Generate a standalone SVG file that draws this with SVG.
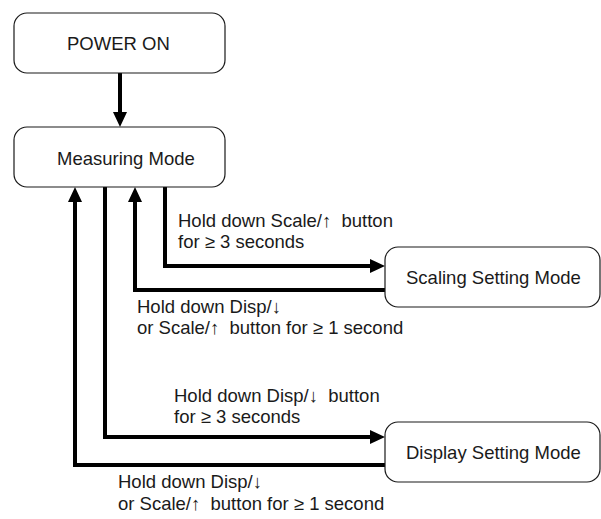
<svg xmlns="http://www.w3.org/2000/svg" width="601" height="519" viewBox="0 0 601 519">
  <style>
    .box { fill: #ffffff; stroke: #1a1a1a; stroke-width: 1.2; }
    .label { font-family: "Liberation Sans", Arial, "DejaVu Sans", sans-serif; font-size: 18.5px; fill: #1a1a1a; }
    .wire { fill: none; stroke: #000000; stroke-width: 4; stroke-linejoin: miter; }
  </style>
  <defs>
    <marker id="head" markerUnits="userSpaceOnUse" markerWidth="15" markerHeight="14" refX="0" refY="7" orient="auto">
      <path d="M0,0 L15,7 L0,14 z" fill="#000000"/>
    </marker>
  </defs>

  <rect width="601" height="519" fill="#ffffff"/>

  <g id="connectors">
    <!-- power on to measuring -->
    <path class="wire" d="M120,73 L120,112" marker-end="url(#head)"/>
    <!-- measuring to scaling setting -->
    <path class="wire" d="M165,187 L165,266 L370,266" marker-end="url(#head)"/>
    <!-- scaling setting back to measuring -->
    <path class="wire" d="M385,290 L135,290 L135,202" marker-end="url(#head)"/>
    <!-- measuring to display setting -->
    <path class="wire" d="M105,187 L105,437 L370,437" marker-end="url(#head)"/>
    <!-- display setting back to measuring -->
    <path class="wire" d="M385,465 L75,465 L75,202" marker-end="url(#head)"/>
  </g>

  <g id="power-on">
    <rect class="box" x="14" y="13" width="211" height="60" rx="13"/>
    <text class="label" x="67" y="50">POWER ON</text>
  </g>

  <g id="measuring-mode">
    <rect class="box" x="14" y="127" width="211" height="60" rx="13"/>
    <text class="label" x="57" y="165">Measuring Mode</text>
  </g>

  <g id="scaling-setting-mode">
    <rect class="box" x="385" y="247" width="215" height="60" rx="13"/>
    <text class="label" x="406" y="284">Scaling Setting Mode</text>
  </g>

  <g id="display-setting-mode">
    <rect class="box" x="385" y="422" width="215" height="60" rx="13"/>
    <text class="label" x="406" y="459">Display Setting Mode</text>
  </g>

  <g id="transition-labels">
    <text class="label" x="178" y="227" xml:space="preserve">Hold down Scale/↑  button</text>
    <text class="label" x="178" y="248">for ≥ 3 seconds</text>
    <text class="label" x="137" y="313">Hold down Disp/↓</text>
    <text class="label" x="137" y="334" xml:space="preserve">or Scale/↑  button for ≥ 1 second</text>
    <text class="label" x="174" y="402" xml:space="preserve">Hold down Disp/↓  button</text>
    <text class="label" x="174" y="423">for ≥ 3 seconds</text>
    <text class="label" x="118" y="488">Hold down Disp/↓</text>
    <text class="label" x="118" y="510" xml:space="preserve">or Scale/↑  button for ≥ 1 second</text>
  </g>
</svg>
